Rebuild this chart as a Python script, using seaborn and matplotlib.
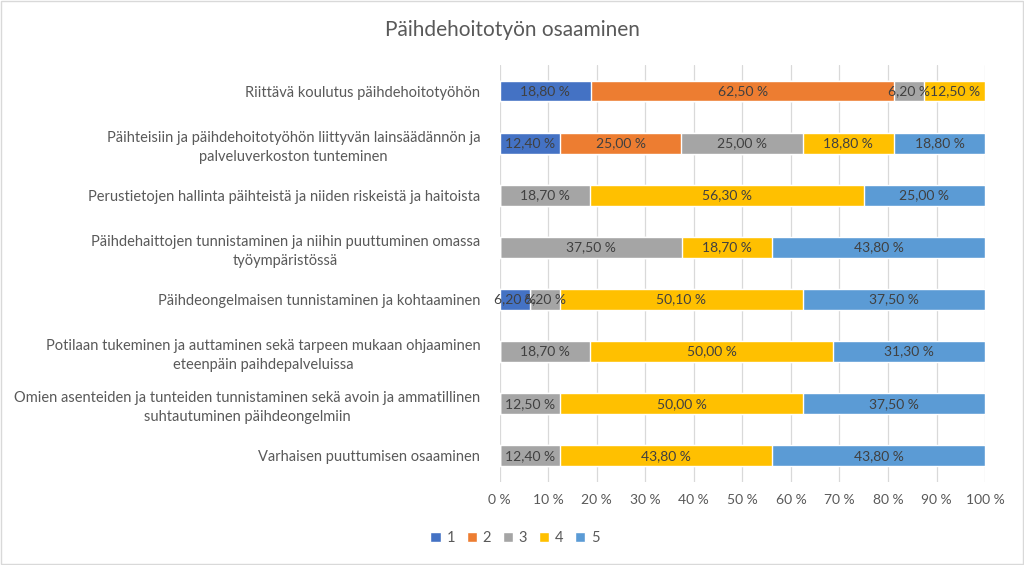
import matplotlib
matplotlib.use("Agg")
import matplotlib.pyplot as plt
from matplotlib.patches import Patch
import seaborn as sns
import pandas as pd
import numpy as np

categories = [
    "Riittävä koulutus päihdehoitotyöhön",
    "Päihteisiin ja päihdehoitotyöhön liittyvän lainsäädännön ja\npalveluverkoston tunteminen",
    "Perustietojen hallinta päihteistä ja niiden riskeistä ja haitoista",
    "Päihdehaittojen tunnistaminen ja niihin puuttuminen omassa\ntyöympäristössä",
    "Päihdeongelmaisen tunnistaminen ja kohtaaminen",
    "Potilaan tukeminen ja auttaminen sekä tarpeen mukaan ohjaaminen\neteenpäin paihdepalveluissa",
    "Omien asenteiden ja tunteiden tunnistaminen sekä avoin ja ammatillinen\nsuhtautuminen päihdeongelmiin",
    "Varhaisen puuttumisen osaaminen",
]
series_names = ["1", "2", "3", "4", "5"]
s1 = [18.8, 12.4, 0, 0, 6.2, 0, 0, 0]
s2 = [62.5, 25.0, 0, 0, 0, 0, 0, 0]
s3 = [6.2, 25.0, 18.7, 37.5, 6.2, 18.7, 12.5, 12.4]
s4 = [12.5, 18.8, 56.3, 18.7, 50.1, 50.0, 50.0, 43.8]
s5 = [0, 18.8, 25.0, 43.8, 37.5, 31.3, 37.5, 43.8]
tick_values = [0, 10, 20, 30, 40, 50, 60, 70, 80, 90, 100]
title = "Päihdehoitotyön osaaminen"

colors = ["#4472C4", "#ED7D31", "#A5A5A5", "#FFC000", "#5B9BD5"]
series = [s1, s2, s3, s4, s5]

sns.set_theme(style="white")
plt.rcParams["font.family"] = ["Lato", "DejaVu Sans"]
text_color = "#595959"

fig = plt.figure(figsize=(10.24, 5.65), dpi=100)
ax = fig.add_axes([0.488, 0.147, 0.474, 0.738])

vals = np.array(series)
cum = np.cumsum(vals, axis=0)
df = pd.DataFrame({"category": categories})
for i, name in enumerate(series_names):
    df["cum" + name] = cum[i]

for i in range(len(series_names) - 1, -1, -1):
    sns.barplot(data=df, x="cum" + series_names[i], y="category", color=colors[i],
                orient="h", width=0.4, saturation=1, ax=ax, zorder=3)

for i in range(len(series_names)):
    for j, cat in enumerate(categories):
        v = vals[i, j]
        if v > 0:
            center = cum[i, j] - v / 2
            lab = f"{v:.2f}".replace(".", ",") + " %"
            ax.text(center, j, lab, ha="center", va="center", fontsize=10,
                    color="#404040", zorder=5)

ax.set_xlim(0, 100)
ax.set_ylim(7.5, -0.5)
ax.set_xticks(tick_values)
ax.set_xticklabels([f"{t} %" for t in tick_values], color=text_color, fontsize=10)
ax.tick_params(axis="y", labelsize=10.5, labelcolor=text_color, length=0, pad=14)
ax.tick_params(axis="x", length=0, pad=9)
ax.set_xlabel("")
ax.set_ylabel("")
ax.grid(axis="x", color="#D9D9D9", linewidth=0.9, zorder=0)
ax.set_axisbelow(True)
for sp in ax.spines.values():
    sp.set_visible(False)

for lbl in ax.get_yticklabels():
    lbl.set_horizontalalignment("right")
    lbl.set_multialignment("center")
    lbl.set_linespacing(1.45)

fig.suptitle(title, x=0.5, y=0.965, fontsize=15, color=text_color)

handles = [Patch(facecolor=c, label=n) for c, n in zip(colors, series_names)]
fig.legend(handles=handles, loc="center", bbox_to_anchor=(0.503, 0.047), ncol=5,
           frameon=False, fontsize=10.5, handlelength=0.7, handleheight=0.7,
           handletextpad=0.4, columnspacing=0.8, labelcolor=text_color)

border = plt.Rectangle((0.001, 0.001), 0.998, 0.998, transform=fig.transFigure,
                       fill=False, edgecolor="#D9D9D9", linewidth=1)
fig.add_artist(border)

fig.savefig("out.png", dpi=100)
